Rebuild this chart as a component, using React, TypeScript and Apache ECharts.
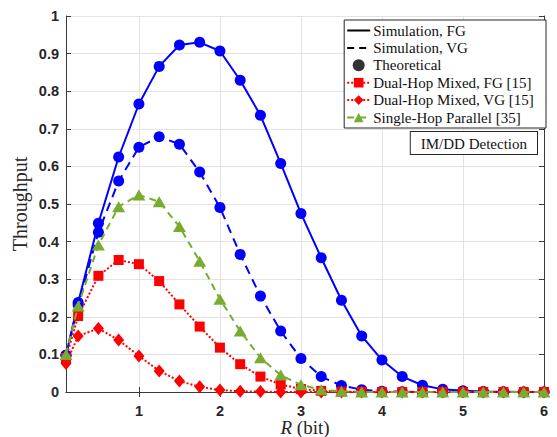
import React, { useEffect, useRef } from "react";
import * as echarts from "echarts";

const rates = [0.1, 0.25, 0.5, 0.75, 1, 1.25, 1.5, 1.75, 2, 2.25, 2.5, 2.75, 3, 3.25, 3.5, 3.75, 4, 4.25, 4.5, 4.75, 5, 5.25, 5.5, 5.75, 6];
const simFG = [0.098, 0.238, 0.449, 0.625, 0.766, 0.866, 0.923, 0.93, 0.907, 0.829, 0.736, 0.608, 0.475, 0.357, 0.244, 0.149, 0.085, 0.041, 0.018, 0.007, 0.003, 0.001, 0.0005, 0.0002, 0.0001];
const simVG = [0.098, 0.232, 0.425, 0.561, 0.651, 0.679, 0.659, 0.585, 0.491, 0.366, 0.255, 0.162, 0.089, 0.041, 0.017, 0.006, 0.002, 0.0005, 0.0002, 0.0001, 0, 0, 0, 0, 0];
const dualFG = [0.09, 0.202, 0.309, 0.351, 0.34, 0.295, 0.233, 0.174, 0.118, 0.074, 0.041, 0.02, 0.008, 0.003, 0.001, 0, 0, 0, 0, 0, 0, 0, 0, 0, 0];
const dualVG = [0.076, 0.149, 0.169, 0.138, 0.096, 0.056, 0.029, 0.014, 0.005, 0.002, 0.001, 0, 0, 0, 0, 0, 0, 0, 0, 0, 0, 0, 0, 0, 0];
const singleHop = [0.1, 0.229, 0.391, 0.493, 0.524, 0.506, 0.44, 0.348, 0.247, 0.162, 0.091, 0.045, 0.019, 0.006, 0.002, 0, 0, 0, 0, 0, 0, 0, 0, 0, 0];
const xTicks = [1, 2, 3, 4, 5, 6];
const legendNames = ["Simulation, FG", "Simulation, VG", "Theoretical", "Dual-Hop Mixed, FG [15]", "Dual-Hop Mixed, VG [15]", "Single-Hop Parallel [35]"];

const pair = (ys: number[]) => rates.map((x, i) => [x, ys[i]]);

const BLUE = "#0000ff";
const RED = "#ff0000";
const GREEN = "#77ac30";
const AXIS = "#3a3a3a";
const GRID = "#e3e3e3";
const SERIF = "'Liberation Serif', 'Times New Roman', serif";
const SANS = "'Liberation Sans', Arial, sans-serif";

export default function App() {
  const ref = useRef<HTMLDivElement>(null);
  useEffect(() => {
    if (!ref.current) return;
    const chart = echarts.init(ref.current, undefined, { renderer: "svg" });
    const tickLabel = { color: "#262626", fontFamily: SANS, fontWeight: "bold" as const, fontSize: 14.5 };
    const legendData = legendNames.map((name, i) =>
      i < 2 ? { name, itemStyle: { opacity: 0 } } : { name }
    );
    chart.setOption({
      animation: false,
      backgroundColor: "#fff",
      grid: { left: 66, right: 13, top: 16, bottom: 45, containLabel: false, outerBoundsMode: "none" },
      xAxis: [
        {
          type: "value", min: 0.1, max: 6,
          axisLine: { lineStyle: { color: AXIS, width: 1 } },
          axisTick: { inside: true, length: 5, customValues: xTicks, lineStyle: { color: AXIS } },
          axisLabel: { customValues: xTicks, ...tickLabel, margin: 11 },
          splitLine: { show: true, lineStyle: { color: GRID, width: 1 } },
          name: "{i|R }{n|(bit)}", nameLocation: "middle", nameGap: 26, nameMoveOverlap: false,
          nameTextStyle: {
            lineHeight: 18,
            rich: {
              i: { fontFamily: SERIF, fontStyle: "italic", fontSize: 19, lineHeight: 18, color: "#262626" },
              n: { fontFamily: SERIF, fontSize: 19, lineHeight: 18, color: "#262626" },
            },
          },
        },
        {
          type: "value", min: 0.1, max: 6, position: "top",
          axisLine: { show: true, lineStyle: { color: AXIS, width: 1 } },
          axisTick: { show: true, inside: true, length: 5, customValues: xTicks, lineStyle: { color: AXIS } },
          axisLabel: { show: false },
          splitLine: { show: false },
        },
      ],
      yAxis: [
        {
          type: "value", min: 0, max: 1, interval: 0.1,
          axisLine: { show: true, lineStyle: { color: AXIS, width: 1 } },
          axisTick: { show: true, inside: true, length: 5, lineStyle: { color: AXIS } },
          axisLabel: { ...tickLabel, margin: 7, formatter: (v: number) => String(Math.round(v * 10) / 10) },
          splitLine: { show: true, lineStyle: { color: GRID, width: 1 } },
          name: "Throughput", nameLocation: "middle", nameGap: 36, nameMoveOverlap: false,
          nameTextStyle: { fontFamily: SERIF, fontSize: 20, color: "#262626" },
        },
        {
          type: "value", min: 0, max: 1, interval: 0.1, position: "right",
          axisLine: { show: true, lineStyle: { color: AXIS, width: 1 } },
          axisTick: { show: true, inside: true, length: 5, lineStyle: { color: AXIS } },
          axisLabel: { show: false },
          splitLine: { show: false },
        },
      ],
      legend: {
        data: legendData,
        orient: "vertical",
        right: 11, top: 20,
        padding: [3, 12, 3, 2],
        itemWidth: 23, itemHeight: 12, itemGap: 2.4,
        borderColor: "#262626", borderWidth: 1, borderRadius: 0,
        backgroundColor: "#fff",
        textStyle: { fontFamily: SERIF, fontSize: 15, color: "#111", padding: [0, 0, 0, -2] },
        selectedMode: false,
      },
      graphic: [
        {
          type: "text", right: 19, top: 131, z: 100,
          style: {
            text: "IM/DD Detection", fontFamily: SERIF, fontSize: 15, fill: "#111",
            backgroundColor: "#fff", borderColor: "#262626", borderWidth: 1, padding: [4, 10, 3, 10],
          },
        },
      ],
      series: [
        { name: "Simulation, FG", type: "line", data: [], symbol: "none", lineStyle: { color: "#000", width: 2 }, itemStyle: { color: "#000" } },
        { name: "Simulation, VG", type: "line", data: [], symbol: "none", lineStyle: { color: "#000", width: 2, type: [7, 5] }, itemStyle: { color: "#000" } },
        { name: "Theoretical", type: "scatter", data: [], symbol: "circle", symbolSize: 11, itemStyle: { color: "#000" } },
        {
          name: "simFG", type: "line", data: pair(simFG), symbol: "circle", symbolSize: 11,
          lineStyle: { color: BLUE, width: 2 }, itemStyle: { color: BLUE }, z: 3,
        },
        {
          name: "simVG", type: "line", data: pair(simVG), symbol: "circle", symbolSize: 11,
          lineStyle: { color: BLUE, width: 2, type: [9, 6] }, itemStyle: { color: BLUE }, z: 3,
        },
        {
          name: "Dual-Hop Mixed, FG [15]", type: "line", data: pair(dualFG), symbol: "rect", symbolSize: 10,
          lineStyle: { color: RED, width: 2, type: [2, 2] }, itemStyle: { color: RED }, z: 4,
        },
        {
          name: "Dual-Hop Mixed, VG [15]", type: "line", data: pair(dualVG), symbol: "diamond", symbolSize: [11, 13],
          lineStyle: { color: RED, width: 2, type: [2, 2] }, itemStyle: { color: RED }, z: 4,
        },
        {
          name: "Single-Hop Parallel [35]", type: "line", data: pair(singleHop), symbol: "triangle", symbolSize: [13, 11],
          lineStyle: { color: GREEN, width: 2, type: [7, 5] }, itemStyle: { color: GREEN }, z: 5,
        },
      ],
    });
    return () => chart.dispose();
  }, []);
  return <div ref={ref} style={{ width: 557, height: 437, position: "absolute", left: 0, top: 0 }} />;
}
